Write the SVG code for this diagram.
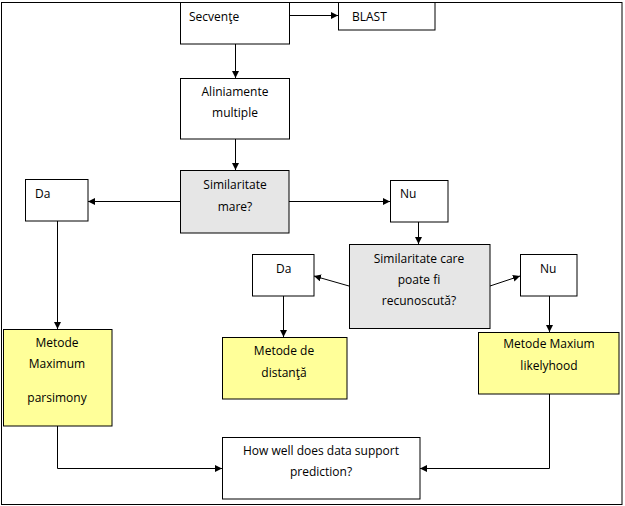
<svg xmlns="http://www.w3.org/2000/svg" width="625" height="506" viewBox="0 0 625 506">
<defs>
<style>
.box{stroke:#000;stroke-width:1;fill:#fff}
.gray{fill:#e6e6e6}
.yel{fill:#ffff99}
.t{font-family:"Open Sans","DejaVu Sans",sans-serif;font-size:12px;fill:#000}
.c{text-anchor:middle}
.ln{stroke:#000;stroke-width:1;fill:none}
</style>
<marker id="ah" markerWidth="7" markerHeight="7" refX="7" refY="3.5" orient="auto" markerUnits="userSpaceOnUse">
<path d="M0,0 L7,3.5 L0,7 Z" fill="#000"/>
</marker>
</defs>
<rect x="0" y="0" width="625" height="506" fill="#fff"/>
<rect x="1.5" y="2.5" width="620.5" height="502" fill="none" stroke="#000"/>
<g id="connectors">
<path class="ln" d="M290,15.5 H338" marker-end="url(#ah)"/>
<path class="ln" d="M235.5,44 V78" marker-end="url(#ah)"/>
<path class="ln" d="M235.5,139 V170" marker-end="url(#ah)"/>
<path class="ln" d="M180,201.5 H88" marker-end="url(#ah)"/>
<path class="ln" d="M289,201.5 H390" marker-end="url(#ah)"/>
<path class="ln" d="M418.5,222 V244" marker-end="url(#ah)"/>
<path class="ln" d="M57.5,221 V329" marker-end="url(#ah)"/>
<path class="ln" d="M349,286 L314,276" marker-end="url(#ah)"/>
<path class="ln" d="M490,286 L520,276" marker-end="url(#ah)"/>
<path class="ln" d="M283.5,296 V337" marker-end="url(#ah)"/>
<path class="ln" d="M549.5,296 V332" marker-end="url(#ah)"/>
<path class="ln" d="M57.5,426 V468.5 H222" marker-end="url(#ah)"/>
<path class="ln" d="M549.5,394 V468.5 H420" marker-end="url(#ah)"/>
</g>
<g id="secvente">
<rect class="box" x="180.5" y="2.5" width="109" height="41.5"/>
<text class="t" x="189" y="21">Secvenţe</text>
</g>
<g id="blast">
<rect class="box" x="338.5" y="2.5" width="96.5" height="27.5"/>
<text class="t" x="352" y="21">BLAST</text>
</g>
<g id="aliniamente">
<rect class="box" x="180.5" y="78.5" width="109" height="60.5"/>
<text class="t c" x="235" y="96">Aliniamente</text>
<text class="t c" x="235" y="117">multiple</text>
</g>
<g id="similaritate-mare">
<rect class="box gray" x="180.5" y="170.5" width="108.5" height="62.5"/>
<text class="t c" x="235" y="189">Similaritate</text>
<text class="t c" x="235" y="211">mare?</text>
</g>
<g id="da1">
<rect class="box" x="25.5" y="179.5" width="62.5" height="41.5"/>
<text class="t" x="35" y="198">Da</text>
</g>
<g id="nu1">
<rect class="box" x="390.5" y="180.5" width="57.5" height="41.5"/>
<text class="t" x="400" y="198">Nu</text>
</g>
<g id="similaritate-care">
<rect class="box gray" x="349.5" y="244.5" width="140.5" height="84"/>
<text class="t c" x="419" y="263">Similaritate care</text>
<text class="t c" x="419" y="284">poate fi</text>
<text class="t c" x="419" y="305">recunoscută?</text>
</g>
<g id="da2">
<rect class="box" x="252.5" y="254.5" width="61.5" height="41.5"/>
<text class="t" x="276" y="273">Da</text>
</g>
<g id="nu2">
<rect class="box" x="520.5" y="254.5" width="56.5" height="41.5"/>
<text class="t" x="540" y="273">Nu</text>
</g>
<g id="parsimony">
<rect class="box yel" x="3.5" y="329.5" width="108.5" height="96.5"/>
<text class="t c" x="57" y="347">Metode</text>
<text class="t c" x="57" y="368">Maximum</text>
<text class="t c" x="57" y="402">parsimony</text>
</g>
<g id="distanta">
<rect class="box yel" x="222.5" y="337.5" width="124.5" height="61.5"/>
<text class="t c" x="284" y="355">Metode de</text>
<text class="t c" x="284" y="377">distanţă</text>
</g>
<g id="likelyhood">
<rect class="box yel" x="478.5" y="332.5" width="140.5" height="61.5"/>
<text class="t c" x="549" y="348">Metode Maxium</text>
<text class="t c" x="549" y="370">likelyhood</text>
</g>
<g id="prediction">
<rect class="box" x="222.5" y="437.5" width="197.5" height="61.5"/>
<text class="t c" x="321" y="455">How well does data support</text>
<text class="t c" x="321" y="476">prediction?</text>
</g>
</svg>
